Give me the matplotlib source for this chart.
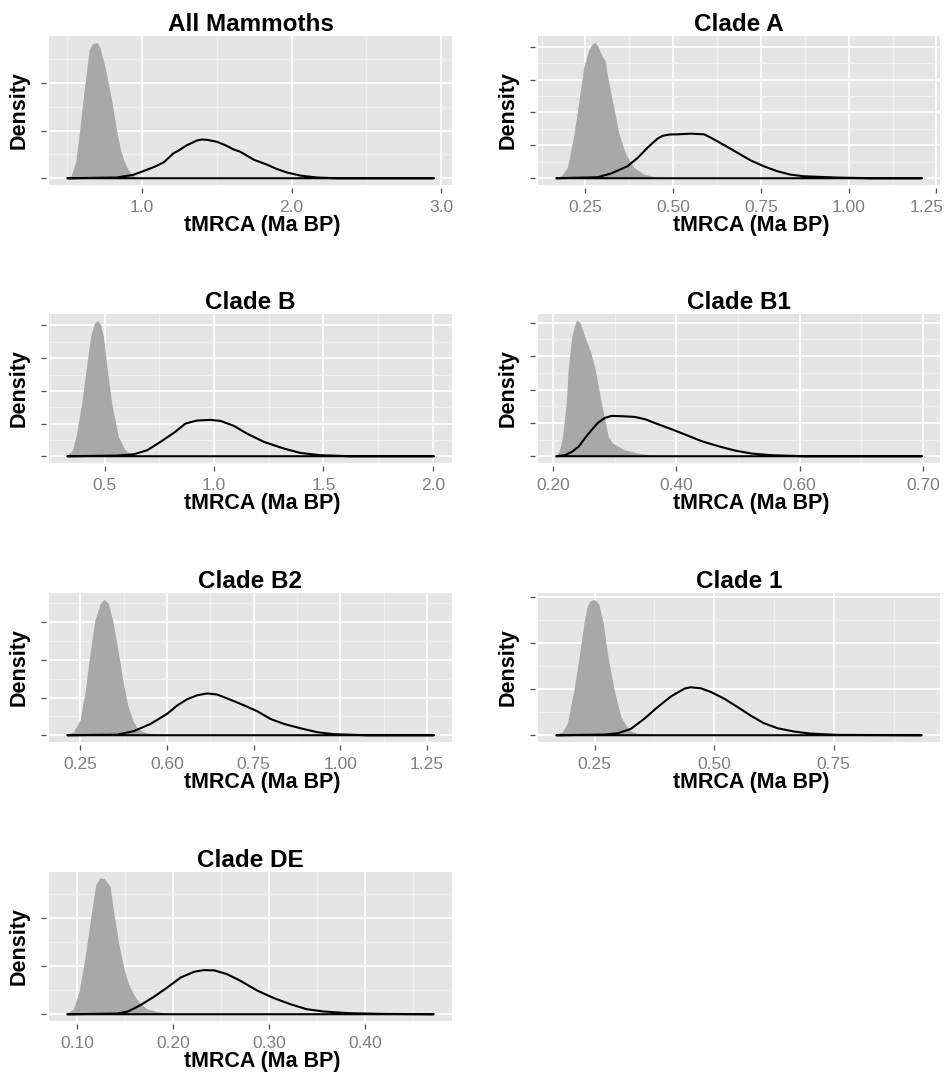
import numpy as np
import matplotlib.pyplot as plt
from matplotlib.transforms import ScaledTranslation

plt.rcParams['font.family'] = ['Liberation Sans', 'DejaVu Sans']

titles = ["All Mammoths", "Clade A", "Clade B", "Clade B1", "Clade B2", "Clade 1", "Clade DE"]

# grey filled densities
all_fill_x = [0.50, 0.53, 0.56, 0.583, 0.60, 0.621, 0.65, 0.67, 0.70, 0.72, 0.755, 0.78, 0.799, 0.82,
              0.837, 0.86, 0.882, 0.91, 0.933, 0.96, 1.00]
all_fill_y = [0, 0.1, 0.7, 1.84, 2.8, 3.97, 5.39, 5.63, 5.70, 5.5, 4.68, 3.9, 3.26, 2.5,
              1.84, 1.15, 0.71, 0.35, 0.14, 0.04, 0]
a_fill_x = [0.167, 0.185, 0.200, 0.219, 0.233, 0.247, 0.261, 0.270, 0.278, 0.287, 0.295, 0.309, 0.313,
            0.328, 0.347, 0.366, 0.389, 0.418, 0.455, 0.474]
a_fill_y = [0, 0.15, 0.63, 2.67, 4.71, 6.76, 7.78, 8.12, 8.24, 8.0, 7.57, 7.06, 6.35,
            4.71, 2.67, 1.45, 0.63, 0.22, 0.02, 0]
b_fill_x = [0.330, 0.355, 0.372, 0.398, 0.418, 0.439, 0.455, 0.471, 0.485, 0.497, 0.515, 0.535, 0.565,
            0.596, 0.626, 0.664]
b_fill_y = [0, 0.4, 1.48, 4.03, 6.58, 9.13, 10.1, 10.36, 10.0, 9.13, 6.58, 4.03, 1.48,
            0.46, 0.08, 0]
b1_fill_x = [0.205, 0.211, 0.216, 0.222, 0.225, 0.231, 0.237, 0.240, 0.244, 0.252, 0.262, 0.269, 0.279,
             0.290, 0.297, 0.316, 0.338, 0.359, 0.392]
b1_fill_y = [0, 0.6, 2.32, 6.32, 10.32, 14.32, 16.0, 16.24, 16.0, 14.32, 12.32, 10.32, 6.32,
             2.32, 1.52, 0.72, 0.32, 0.08, 0]
b2_fill_x = [0.212, 0.231, 0.250, 0.264, 0.279, 0.293, 0.308, 0.319, 0.332, 0.346, 0.361, 0.375, 0.389,
             0.404, 0.418, 0.442, 0.471, 0.500]
b2_fill_y = [0, 0.20, 0.97, 2.74, 5.40, 7.61, 8.67, 8.98, 8.72, 7.39, 5.40, 3.41, 1.86,
             0.86, 0.35, 0.13, 0.02, 0]
c1_fill_x = [0.170, 0.184, 0.194, 0.208, 0.219, 0.229, 0.236, 0.242, 0.249, 0.256, 0.260, 0.269, 0.279,
             0.292, 0.306, 0.323, 0.340, 0.382]
c1_fill_y = [0, 0.33, 1.24, 4.89, 8.54, 12.19, 14.01, 14.56, 14.74, 14.50, 14.20, 12.19, 8.54,
             4.89, 1.97, 0.51, 0.15, 0]
de_fill_x = [0.090, 0.097, 0.103, 0.109, 0.115, 0.120, 0.124, 0.129, 0.135, 0.139, 0.144, 0.149, 0.154,
             0.160, 0.166, 0.173, 0.184, 0.194, 0.208]
de_fill_y = [0, 1.04, 4.86, 11.81, 20.14, 26.74, 28.13, 28.13, 26.39, 20.83, 14.58, 9.72, 6.25,
             3.82, 2.22, 1.04, 0.42, 0.14, 0]

# black outlined densities
all_line_x = [0.50, 0.83, 0.94, 1.03, 1.09, 1.145, 1.212, 1.235, 1.30, 1.368, 1.40, 1.44, 1.502, 1.56,
              1.613, 1.658, 1.747, 1.836, 1.90, 1.97, 2.06, 2.17, 2.30, 2.95]
all_line_y = [0, 0.03, 0.14, 0.35, 0.50, 0.67, 1.06, 1.13, 1.39, 1.59, 1.63, 1.61, 1.53, 1.38,
              1.21, 1.11, 0.78, 0.57, 0.39, 0.24, 0.11, 0.03, 0.0, 0]
a_line_x = [0.167, 0.285, 0.323, 0.370, 0.399, 0.427, 0.455, 0.470, 0.490, 0.512, 0.550, 0.588, 0.607,
            0.645, 0.683, 0.721, 0.758, 0.796, 0.834, 0.872, 0.967, 1.06, 1.208]
a_line_y = [0, 0.06, 0.29, 0.73, 1.24, 1.86, 2.40, 2.58, 2.66, 2.67, 2.71, 2.67, 2.47,
            2.02, 1.55, 1.08, 0.73, 0.43, 0.22, 0.12, 0.04, 0.0, 0]
b_line_x = [0.330, 0.558, 0.634, 0.695, 0.756, 0.817, 0.870, 0.923, 0.984, 1.030, 1.091, 1.151, 1.228,
            1.319, 1.395, 1.486, 1.623, 2.004]
b_line_y = [0, 0.05, 0.15, 0.46, 1.10, 1.79, 2.50, 2.73, 2.78, 2.70, 2.32, 1.73, 1.10,
            0.59, 0.25, 0.08, 0.0, 0]
b1_line_x = [0.205, 0.219, 0.230, 0.241, 0.251, 0.262, 0.273, 0.284, 0.295, 0.311, 0.332, 0.349, 0.370,
             0.392, 0.414, 0.441, 0.468, 0.495, 0.522, 0.554, 0.608, 0.798]
b1_line_y = [0, 0.12, 0.52, 1.12, 2.12, 3.12, 4.04, 4.60, 4.84, 4.80, 4.72, 4.44, 3.84,
             3.24, 2.60, 1.80, 1.20, 0.68, 0.32, 0.12, 0.0, 0]
b2_line_x = [0.212, 0.356, 0.404, 0.452, 0.500, 0.529, 0.558, 0.587, 0.615, 0.644, 0.683, 0.721, 0.760,
             0.798, 0.837, 0.885, 0.933, 0.981, 1.077, 1.269]
b2_line_y = [0, 0.04, 0.27, 0.75, 1.42, 1.97, 2.39, 2.65, 2.77, 2.70, 2.35, 1.99, 1.59,
             1.08, 0.75, 0.46, 0.20, 0.07, 0.0, 0]
c1_line_x = [0.170, 0.271, 0.299, 0.326, 0.354, 0.382, 0.410, 0.438, 0.451, 0.472, 0.493, 0.521, 0.549,
             0.576, 0.604, 0.632, 0.667, 0.701, 0.757, 0.934]
c1_line_y = [0, 0.07, 0.22, 0.69, 1.79, 3.07, 4.23, 5.07, 5.22, 5.11, 4.71, 3.98, 3.07,
             2.15, 1.31, 0.77, 0.40, 0.18, 0.04, 0]
de_line_x = [0.090, 0.142, 0.153, 0.166, 0.180, 0.194, 0.208, 0.222, 0.232, 0.243, 0.256, 0.270, 0.288,
             0.305, 0.322, 0.339, 0.357, 0.384, 0.419, 0.471]
de_line_y = [0, 0.14, 0.56, 1.88, 3.61, 5.56, 7.64, 8.82, 9.17, 9.10, 8.33, 6.94, 4.86,
             3.33, 2.08, 1.04, 0.56, 0.21, 0.07, 0]

# x breaks and their printed labels (labels as printed in the original)
all_ticks = [1.0, 2.0, 3.0]
all_labels = ["1.0", "2.0", "3.0"]
a_ticks = [0.25, 0.50, 0.75, 1.00, 1.25]
a_labels = ["0.25", "0.50", "0.75", "1.00", "1.25"]
b_ticks = [0.5, 1.0, 1.5, 2.0]
b_labels = ["0.5", "1.0", "1.5", "2.0"]
b1_ticks = [0.2, 0.4, 0.6, 0.8]
b1_labels = ["0.20", "0.40", "0.60", "0.70"]
b2_ticks = [0.25, 0.50, 0.75, 1.00, 1.25]
b2_labels = ["0.25", "0.60", "0.75", "1.00", "1.25"]
c1_ticks = [0.25, 0.50, 0.75]
c1_labels = ["0.25", "0.50", "0.75"]
de_ticks = [0.1, 0.2, 0.3, 0.4]
de_labels = ["0.10", "0.20", "0.30", "0.40"]

y_steps = [2, 2, 2.5, 4, 2.5, 5, 10]

panels = [
    (all_fill_x, all_fill_y, all_line_x, all_line_y, all_ticks, all_labels),
    (a_fill_x, a_fill_y, a_line_x, a_line_y, a_ticks, a_labels),
    (b_fill_x, b_fill_y, b_line_x, b_line_y, b_ticks, b_labels),
    (b1_fill_x, b1_fill_y, b1_line_x, b1_line_y, b1_ticks, b1_labels),
    (b2_fill_x, b2_fill_y, b2_line_x, b2_line_y, b2_ticks, b2_labels),
    (c1_fill_x, c1_fill_y, c1_line_x, c1_line_y, c1_ticks, c1_labels),
    (de_fill_x, de_fill_y, de_line_x, de_line_y, de_ticks, de_labels),
]

W, H = 944, 1078
fig = plt.figure(figsize=(W / 100, H / 100), dpi=100)

col_left = [49, 538]
col_width = [403, 402]
row_top = [36, 314, 593, 872]
panel_h = 149


def draw_panel(ax, title, fx, fy, lx, ly, xt, xl, ystep):
    ax.set_facecolor('#E5E5E5')
    ax.fill(fx, fy, color='#A8A8A8', lw=0, zorder=2)
    ax.fill(lx, ly, facecolor='none', edgecolor='black', lw=1.5, zorder=3, joinstyle='round')

    xmin = min(min(fx), min(lx))
    xmax = max(max(fx), max(lx))
    pad = (xmax - xmin) * 0.05
    ymax = max(max(fy), max(ly))

    step = xt[1] - xt[0]
    ax.set_xticks(xt)
    ax.set_xticklabels(xl)
    ax.set_xticks(np.arange(xt[0] - step / 2, xt[-1] + step, step), minor=True)
    ax.set_yticks(np.arange(0, ymax * 1.05, ystep))
    ax.set_yticklabels([])
    ax.set_yticks(np.arange(ystep / 2, ymax * 1.05, ystep), minor=True)
    # limits after the ticks, so extra minor ticks do not widen the view
    ax.set_xlim(xmin - pad, xmax + pad)
    ax.set_ylim(-ymax * 0.05, ymax * 1.05)

    ax.set_axisbelow(True)
    ax.grid(which='major', color='white', lw=1.3)
    ax.grid(which='minor', color='#F2F2F2', lw=0.6)

    for s in ['top', 'right']:
        ax.spines[s].set_visible(False)
    for s in ['bottom', 'left']:
        ax.spines[s].set_position(('outward', 2.5))
        ax.spines[s].set_visible(False)

    ax.tick_params(which='major', direction='out', length=3.5, width=0.9, color='#4D4D4D',
                   labelcolor='#7F7F7F', labelsize=12.5, pad=5)
    ax.tick_params(which='minor', length=0)

    ax.set_title(title, fontsize=17.5, fontweight='bold', pad=1.5)
    ax.set_xlabel("tMRCA (Ma BP)", fontsize=15.5, fontweight='bold', labelpad=0, x=0.53)
    ax.set_ylabel("Density", fontsize=15.5, fontweight='bold', labelpad=3)


for i, (fx, fy, lx, ly, xt, xl) in enumerate(panels):
    r, c = divmod(i, 2)
    rect = [col_left[c] / W, 1 - (row_top[r] + panel_h) / H, col_width[c] / W, panel_h / H]
    ax = fig.add_axes(rect)
    draw_panel(ax, titles[i], fx, fy, lx, ly, xt, xl, y_steps[i])
    if c == 1:
        # keep a label that sits on the right edge inside the figure
        last = ax.get_xticklabels()[-1]
        bb_right = ax.get_position().x1 * W + 14
        if ax.transData.transform((xt[-1], 0))[0] + 14 > W:
            last.set_transform(last.get_transform() + ScaledTranslation(-7 / 72, 0, fig.dpi_scale_trans))

fig.savefig('out.png', dpi=100)
